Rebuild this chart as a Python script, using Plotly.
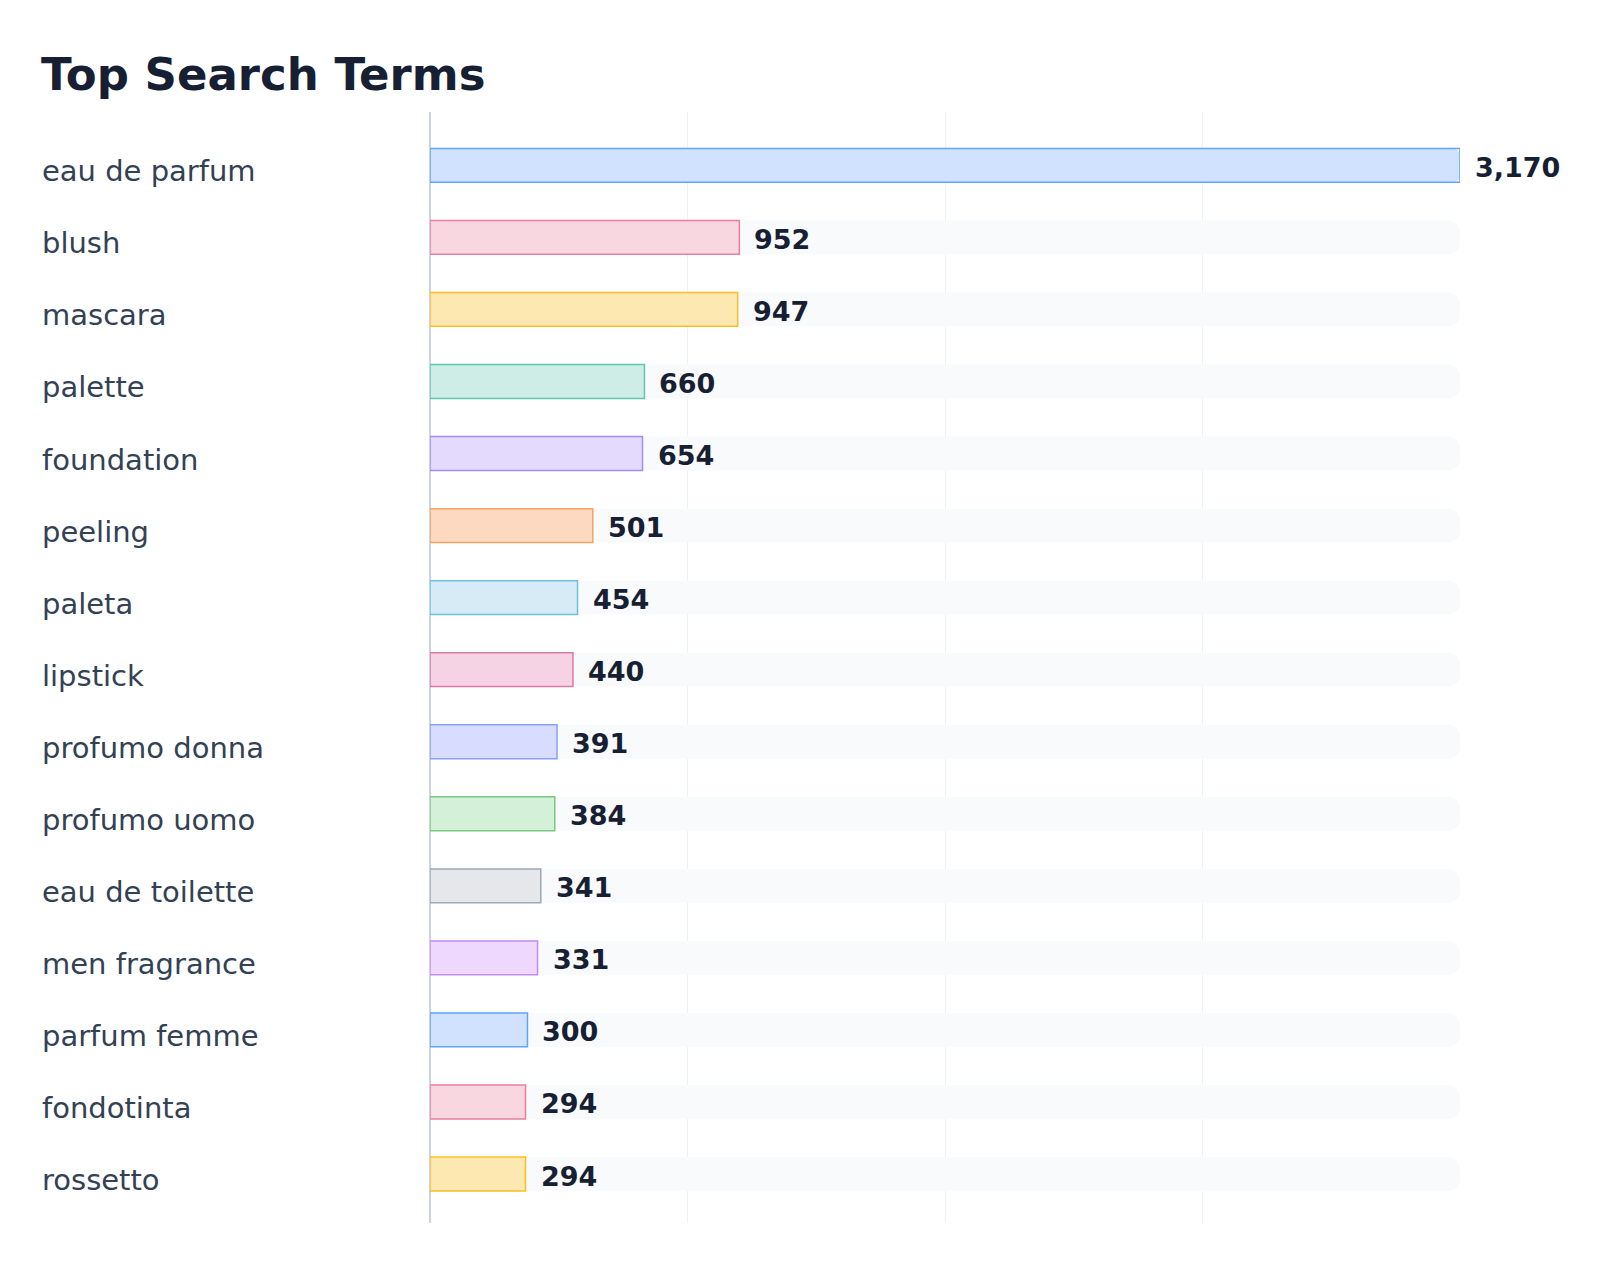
import plotly.graph_objects as go

terms = ["eau de parfum", "blush", "mascara", "palette", "foundation", "peeling",
         "paleta", "lipstick", "profumo donna", "profumo uomo", "eau de toilette",
         "men fragrance", "parfum femme", "fondotinta", "rossetto"]
counts = [3170, 952, 947, 660, 654, 501, 454, 440, 391, 384, 341, 331, 300, 294, 294]

line_colors = ["#60a5fa", "#ec7fa0", "#fbbf24", "#5ec8b4", "#a78bfa", "#f5a262",
               "#6bc1d9", "#d97aa7", "#8b9ffb", "#78c87f", "#9aa9bb", "#c38af8",
               "#60a5fa", "#ec7fa0", "#fbbf24"]
fill_colors = ["#d0e2fe", "#f8d7e1", "#fde8b2", "#ceede7", "#e4dafe", "#fed9c2",
               "#d6ebf6", "#f5d3e5", "#d8dcfe", "#d5f0d8", "#e5e7eb", "#eed8fd",
               "#d0e2fe", "#f8d7e1", "#fde8b2"]

max_val = max(counts)
grid_vals = [max_val * f for f in (0, 0.25, 0.5, 0.75, 1.0)]

FONT = "DejaVu Sans"
BAR_W = 0.47
W, H = 1584, 1266

fig = go.Figure()

# background tracks
fig.add_trace(go.Bar(
    x=[max_val] * len(terms), y=terms, orientation="h", width=BAR_W,
    marker=dict(color="#f8fafc", line=dict(width=0), cornerradius=12),
    hoverinfo="skip", showlegend=False,
))
# filled bars
fig.add_trace(go.Bar(
    x=counts, y=terms, orientation="h", width=BAR_W,
    marker=dict(color=fill_colors, line=dict(width=0), cornerradius=7),
    showlegend=False,
))
# outlines
fig.add_trace(go.Bar(
    x=counts, y=terms, orientation="h", width=BAR_W,
    marker=dict(color="rgba(0,0,0,0)", line=dict(color=line_colors, width=1.5)),
    hoverinfo="skip", showlegend=False,
))

annotations = []
for t, v in zip(terms, counts):
    annotations.append(dict(
        x=v, y=t, xref="x", yref="y", text="<b>" + f"{v:,}" + "</b>",
        showarrow=False, xanchor="left", yanchor="middle", xshift=13, yshift=-2,
        font=dict(family=FONT, size=27, color="#172033"),
    ))
    annotations.append(dict(
        x=0, y=t, xref="paper", yref="y", text=t,
        showarrow=False, xanchor="left", yanchor="middle", xshift=-390, yshift=-6,
        font=dict(family=FONT, size=29, color="#334155"),
    ))

fig.update_layout(
    width=W, height=H,
    margin=dict(l=422, r=132, t=104, b=51),
    paper_bgcolor="white", plot_bgcolor="white",
    barmode="overlay",
    title=dict(text="<b>Top Search Terms</b>", x=33 / W, xref="container", xanchor="left",
               y=1 - 66 / H, yanchor="middle", yref="container",
               font=dict(family=FONT, size=45, color="#172033"), pad=dict(l=0)),
    annotations=annotations,
    xaxis=dict(range=[0, max_val], tickvals=grid_vals, showticklabels=False,
               showgrid=True, gridcolor="#eef1f5", gridwidth=1,
               zeroline=True, zerolinecolor="#cbd5e1", zerolinewidth=1.5,
               showline=False, fixedrange=True),
    yaxis=dict(categoryorder="array", categoryarray=terms,
               range=[14.68, -0.74], showticklabels=False, showgrid=False,
               zeroline=False, showline=False),
)

fig.write_html("out.html")
